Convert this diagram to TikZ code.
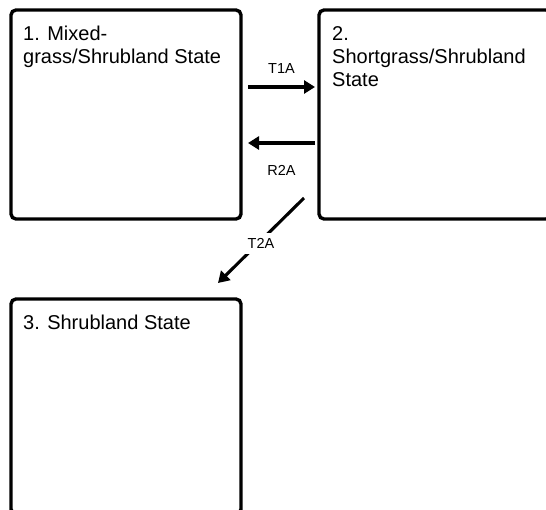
\documentclass[tikz,border=0pt]{standalone}
\usepackage{fontspec}
\setmainfont{Liberation Sans}
\usepackage{tikz}
\usetikzlibrary{arrows.meta,positioning}
\tikzset{%
  tipT/.tip={Triangle[length=11pt,width=13pt]},
  statebox/.style={draw=black, line width=3.4pt, rounded corners=5pt, inner sep=0pt, outer sep=0pt},
  statetext/.style={anchor=north west, inner sep=0pt, align=left, font=\fontsize{20}{23}\selectfont},
  flow/.style={black, line width=3.1pt, -tipT},
  trlabel/.style={font=\fontsize{14.5}{17}\selectfont}
}

\begin{document}
\begin{tikzpicture}[x=1pt,y=1pt]
    \useasboundingbox (0,0) rectangle (546,-509);
    % the three states
    \node[statebox, minimum width=230pt, minimum height=209pt] (s1) at (126,-114.5) {};
    \node[statebox, minimum width=232pt, minimum height=209pt] (s2) at (435,-114.5) {};
    \node[statebox, minimum width=230pt, minimum height=215pt] (s3) at (126,-406.5) {};
    \node[statetext] (n1) at ([shift={(12pt,-16pt)}]s1.north west) {1. Mixed-\\grass/Shrubland State};
    \node[statetext] (n2) at ([shift={(13pt,-16pt)}]s2.north west) {2.\\Shortgrass/Shrubland\\State};
    \node[statetext] (n3) at ([shift={(12pt,-16pt)}]s3.north west) {3. Shrubland State};
    % transitions
    \draw[flow] ([shift={(7pt,27.5pt)}]s1.east) -- ([shift={(-4pt,27.5pt)}]s2.west)
        node[trlabel, midway, above=9pt] (t1a) {T1A};
    \draw[flow] ([shift={(-4pt,-28.5pt)}]s2.west) -- ([shift={(7pt,-28.5pt)}]s1.east)
        node[trlabel, midway, below=17.5pt] (r2a) {R2A};
    \draw[flow] ([shift={(-15pt,21pt)}]s2.south west) -- ([shift={(-23pt,16pt)}]s3.north east)
        node[trlabel, pos=0.5, yshift=-3pt, fill=white, inner sep=5pt] (t2a) {T2A};
\end{tikzpicture}
\end{document}
